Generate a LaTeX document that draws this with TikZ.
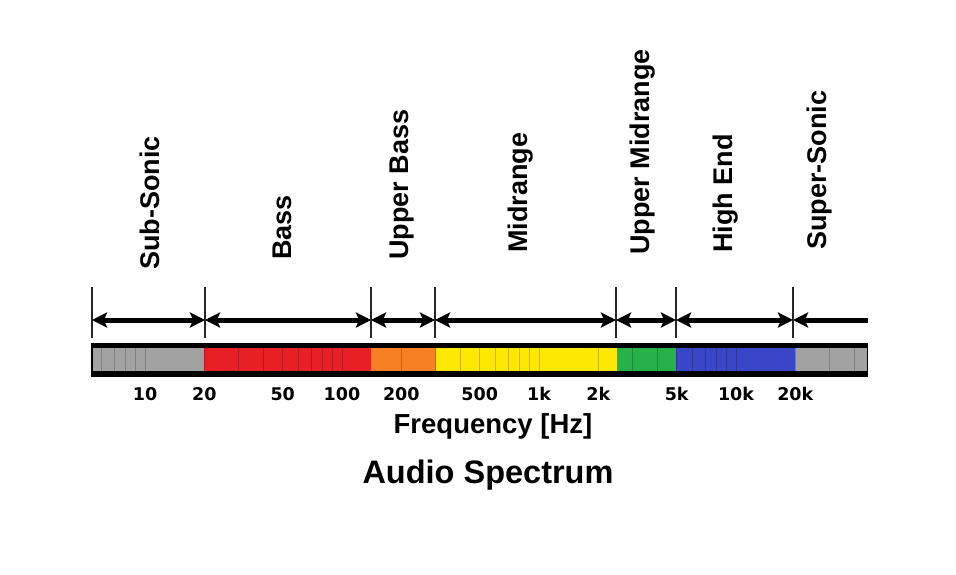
\documentclass[tikz,border=0pt]{standalone}
\usepackage{fontspec}
\setmainfont{Liberation Sans}
\newfontfamily\tickfont{DejaVu Sans}
\usetikzlibrary{arrows.meta}

\definecolor{bandgray}{RGB}{162,162,162}
\definecolor{bandred}{RGB}{232,32,38}
\definecolor{bandorange}{RGB}{247,128,36}
\definecolor{bandyellow}{RGB}{252,232,0}
\definecolor{bandgreen}{RGB}{38,178,72}
\definecolor{bandblue}{RGB}{58,70,200}

\begin{document}
\begin{tikzpicture}[x=1pt,y=-1pt,
  sep/.style={draw=black!85, line width=1.3pt},
  span/.style={line width=5pt, {Stealth[length=15pt,width=15pt,inset=3pt]}-{Stealth[length=15pt,width=15pt,inset=3pt]}},
  lspan/.style={line width=5pt, {Stealth[length=15pt,width=15pt,inset=3pt]}-},
  rangelabel/.style={rotate=90, anchor=west, inner sep=0pt, font=\fontsize{27}{30}\selectfont\bfseries},
  ticklabel/.style={anchor=base, inner sep=0pt, font=\tickfont\fontsize{17.5}{19}\selectfont\bfseries},
  tickmark/.style={draw=black, draw opacity=0.22, line width=1pt}
]
\useasboundingbox (0,0) rectangle (956,574);

% Parameters: log axis, x = \xo + \dec*log10(f/10)
\def\xo{145}   % x of 10 Hz
\def\dec{197}  % width of one decade
\def\bt{348}   % inner bar top
\def\bb{371}   % inner bar bottom

% Black bar
\fill[black] (91,343) rectangle (868,377);

% Coloured bands
\fill[bandgray]   (93,\bt)  rectangle (204,\bb);
\fill[bandred]    (204,\bt) rectangle (371,\bb);
\fill[bandorange] (371,\bt) rectangle (436,\bb);
\fill[bandyellow] (436,\bt) rectangle (617,\bb);
\fill[bandgreen]  (617,\bt) rectangle (676,\bb);
\fill[bandblue]   (676,\bt) rectangle (795,\bb);
\fill[bandgray]   (795,\bt) rectangle (867,\bb);

% Minor ticks inside the bar
\begin{scope}
  \clip (94,\bt) rectangle (866,\bb);
  \foreach \d in {-1,0,1,2,3}
    \foreach \m in {1,...,9} {
      \pgfmathsetmacro{\tx}{\xo+\dec*(\d+log10(\m))}
      \draw[tickmark] (\tx,\bt) -- (\tx,\bb);
    }
\end{scope}

% Separators and arrow ends
\foreach \bx [count=\i] in {92,205,371,435,616,676,793} {
  \draw[sep] (\bx,287) -- (\bx,338);
  \coordinate (b\i) at (\bx,320);
}
\coordinate (bend) at (868,320);

% Range arrows
\draw[span] (b1) -- (b2);
\draw[span] (b2) -- (b3);
\draw[span] (b3) -- (b4);
\draw[span] (b4) -- (b5);
\draw[span] (b5) -- (b6);
\draw[span] (b6) -- (b7);
\draw[lspan] (b7) -- (bend);

% Range labels
\node[rangelabel] (subsonic)   at (150,270) {Sub-Sonic};
\node[rangelabel] (bass)       at (282,260) {Bass};
\node[rangelabel] (upperbass)  at (402,260) {Upper Bass};
\node[rangelabel] (midrange)   at (521,253) {Midrange};
\node[rangelabel] (uppermid)   at (643,255) {Upper Midrange};
\node[rangelabel] (highend)    at (726,253) {High End};
\node[rangelabel] (supersonic) at (820,250) {Super-Sonic};

% Frequency labels
\foreach \d/\m/\lab/\nm in {0/1/10/f10, 0/2/20/f20, 0/5/50/f50, 1/1/100/f100,
    1/2/200/f200, 1/5/500/f500, 2/1/1k/f1k, 2/2/2k/f2k, 2/5/5k/f5k,
    3/1/10k/f10k, 3/2/20k/f20k} {
  \pgfmathsetmacro{\lx}{\xo+\dec*(\d+log10(\m))}
  \node[ticklabel] (\nm) at (\lx,400) {\lab};
}

% Axis title and caption
\node[anchor=base, inner sep=0pt, font=\fontsize{27.5}{30}\selectfont\bfseries] (freq) at (493,433) {Frequency [Hz]};
\node[anchor=base, inner sep=0pt, font=\fontsize{32.5}{36}\selectfont\bfseries] (title) at (488,483) {Audio Spectrum};

\end{tikzpicture}
\end{document}
